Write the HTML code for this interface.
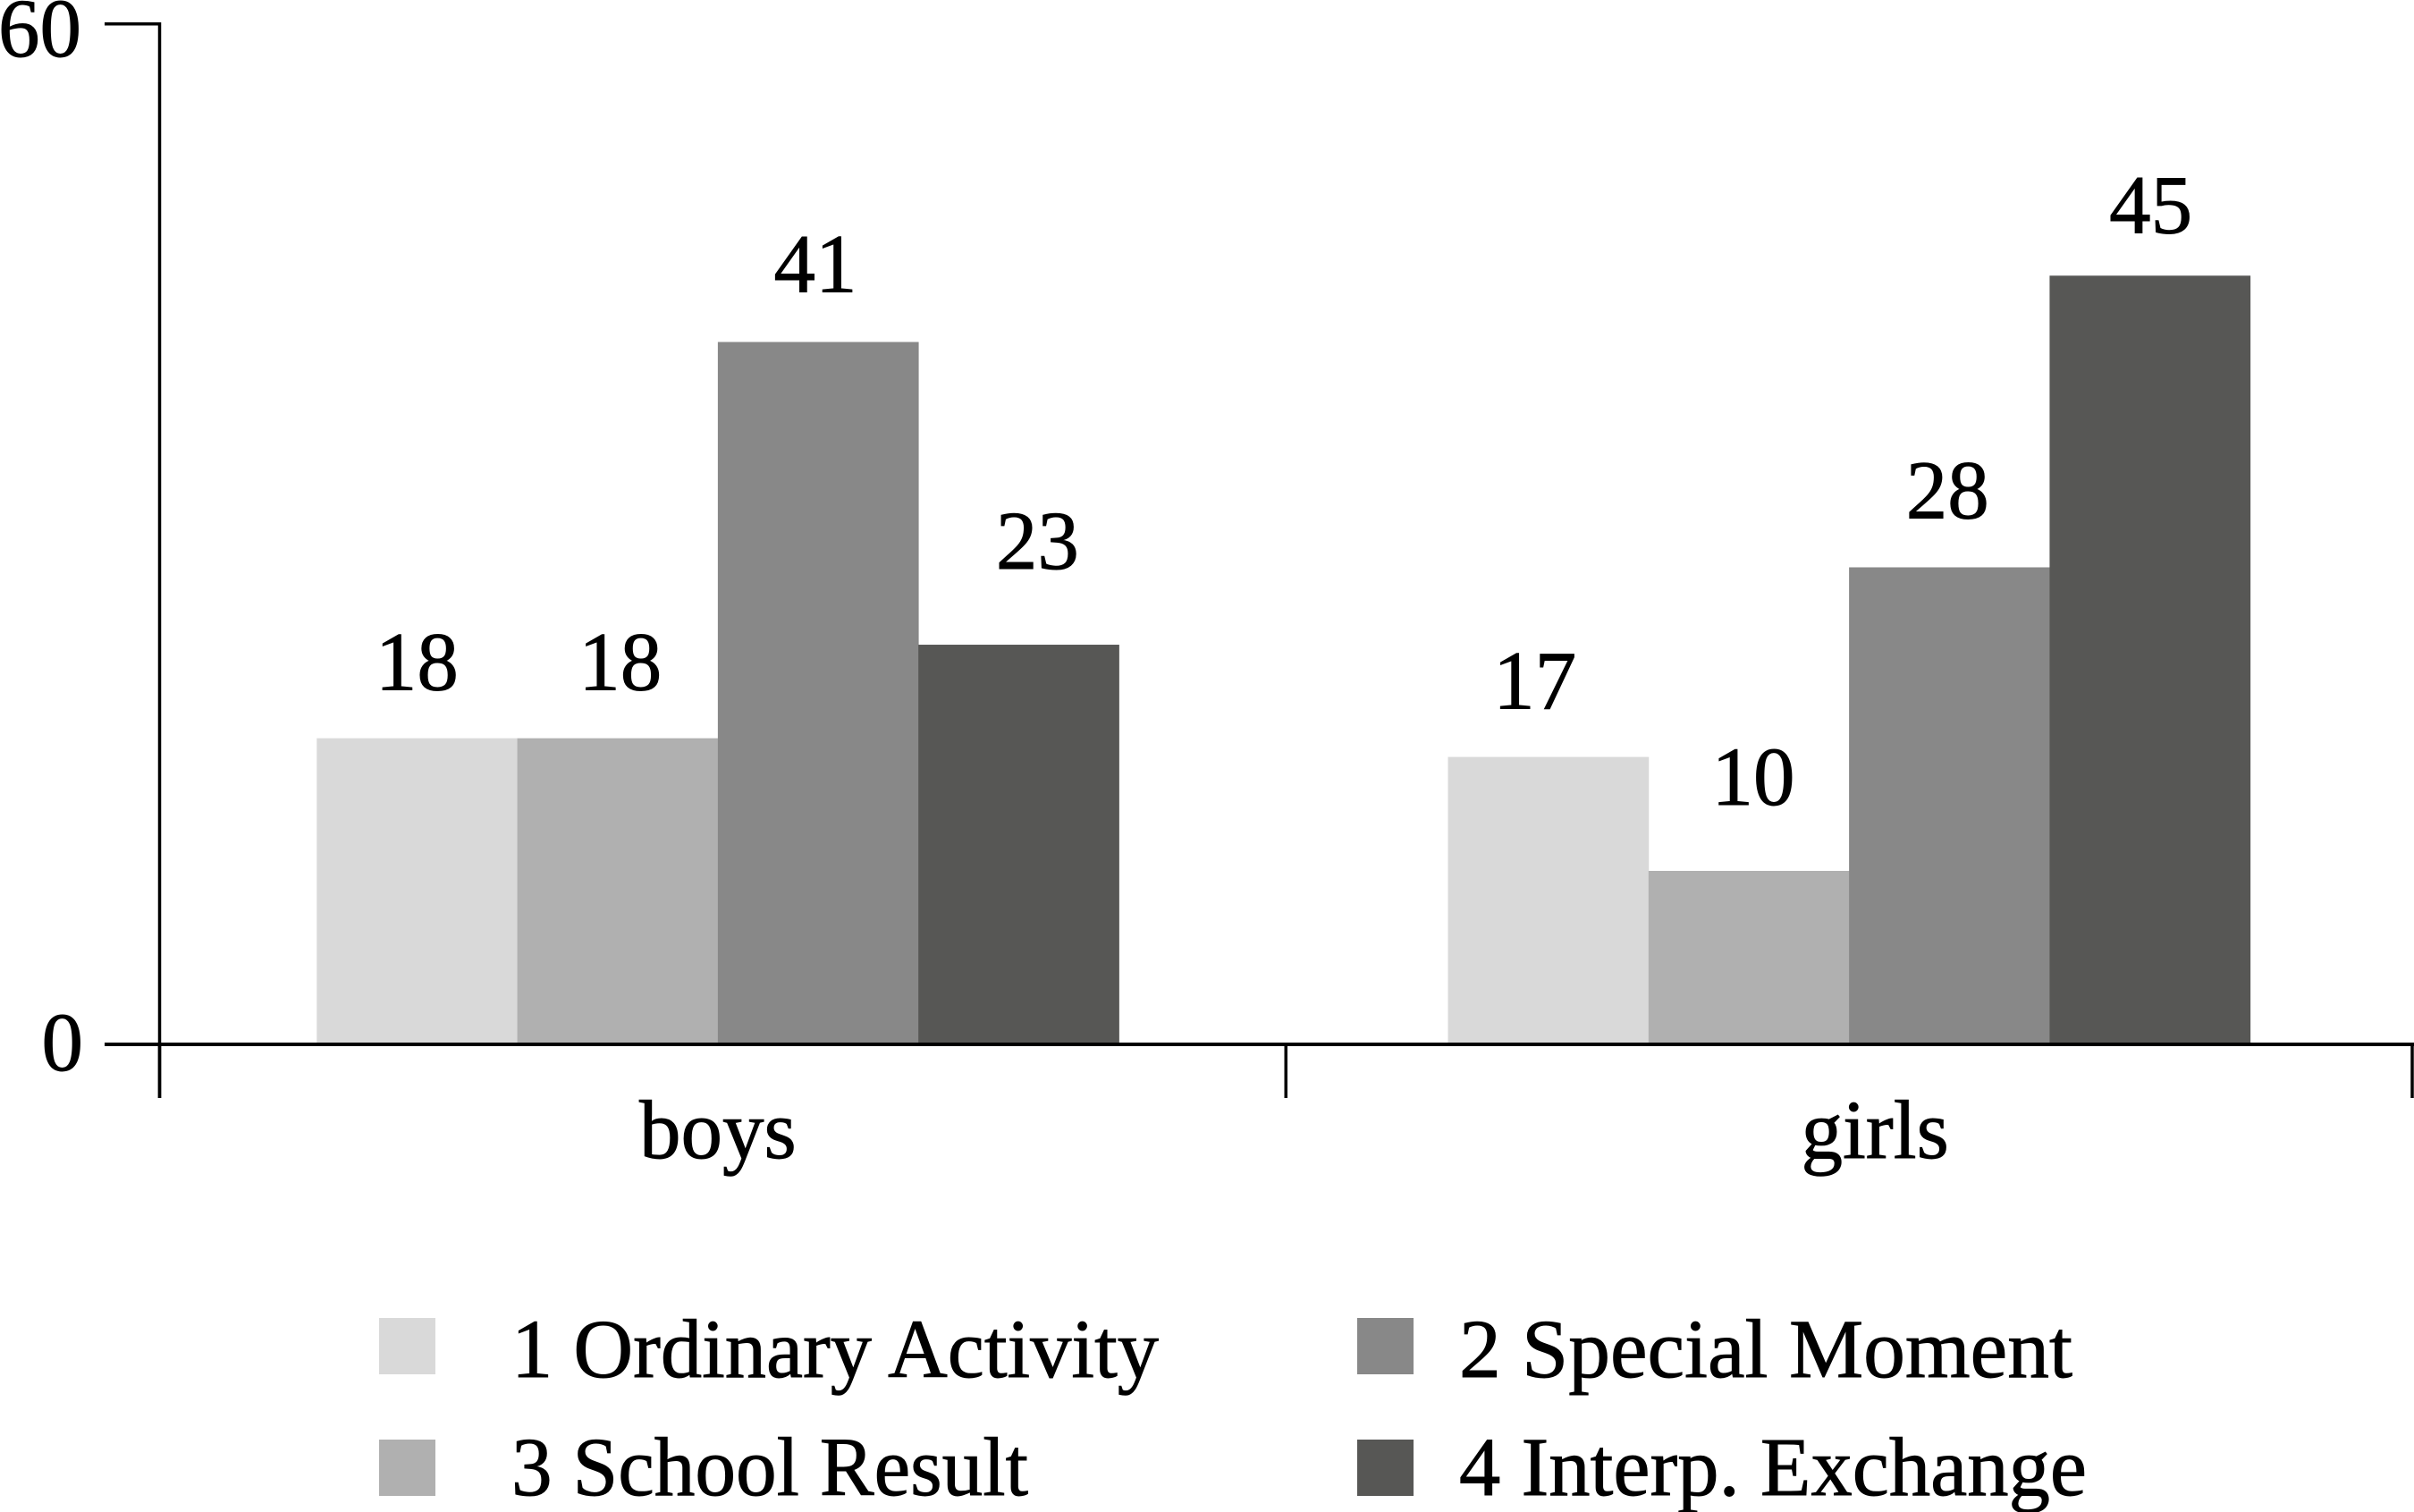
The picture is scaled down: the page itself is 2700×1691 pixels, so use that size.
<!DOCTYPE html>
<html lang="en">
<head>
<meta charset="utf-8">
<title>Grouped bar chart: boys and girls</title>
<style>
  html, body { margin: 0; padding: 0; background: #fff; }
  svg { display: block; }
  text { font-family: "Liberation Serif", serif; font-size: 93px; fill: #000; stroke: #000; stroke-width: 0.9px; }
</style>
</head>
<body>
<svg id="chart" xmlns="http://www.w3.org/2000/svg" width="2700" height="1691" viewBox="0 0 2700 1691"></svg>
<script>
// Data
const categories = ["boys", "girls"];
const seriesNames = ["1 Ordinary Activity", "3 School Result", "2 Special Moment", "4 Interp. Exchange"];
const boysValues = [18.0, 18.0, 41.3, 23.5];
const girlsValues = [16.9, 10.2, 28.05, 45.2];
const boysPrinted = ["18", "18", "41", "23"];
const girlsPrinted = ["17", "10", "28", "45"];
const yTicks = [0, 60];
const yTickLabels = ["0", "60"];

// Layout and styles
const barColors = ["#d9d9d9", "#b0b0b0", "#888888", "#575755"];
const Y0 = 1168, PX_PER_UNIT = 19.02;
const AXIS_X = 178.5, BAND = 1259.75, BAR_W = 224.3;
const GROUP_NUDGE = [-5.5, 0];
const CAT_NUDGE = [0, 29];
const LABEL_GAP = 54;
const LABEL_DX = [[0, 3, -3, 21], [-15, 5, -2, 1]];
const LABEL_DY = [[0, 0, -2, -31], [0, -20, -1, 6]];

const NS = "http://www.w3.org/2000/svg";
const svg = document.getElementById("chart");

function yVal(v) { return Y0 - v * PX_PER_UNIT; }
function bandCenter(g) { return AXIS_X + BAND * (g + 0.5) + GROUP_NUDGE[g]; }
function xBar(g, s) { return bandCenter(g) + (s - 2) * BAR_W; }

function make(tag, attrs, parent) {
  const el = document.createElementNS(NS, tag);
  for (const k in attrs) el.setAttribute(k, attrs[k]);
  (parent || svg).appendChild(el);
  return el;
}

const bg = make("rect", { x: 0, y: 0, width: 2700, height: 1691, fill: "#fff" });



// Bars and value labels
[boysValues, girlsValues].forEach(function (vals, g) {
  const printed = g === 0 ? boysPrinted : girlsPrinted;
  vals.forEach(function (v, s) {
    const bar = make("rect", { x: xBar(g, s), y: yVal(v), width: BAR_W + 0.4, height: Y0 - yVal(v), fill: barColors[s] });
    
    

    const label = make("text", {
      x: xBar(g, s) + BAR_W / 2 + LABEL_DX[g][s],
      y: yVal(v) - LABEL_GAP + LABEL_DY[g][s],
      "text-anchor": "middle"
    });
    label.textContent = printed[s];
    
    
  });
});

// Axes
const yAxis = make("line", { x1: AXIS_X, x2: AXIS_X, y1: yVal(60) - 1.75, y2: 1228, stroke: "#000", "stroke-width": 3.5 });



const xAxis = make("line", { x1: 117, x2: 2700, y1: Y0, y2: Y0, stroke: "#000", "stroke-width": 4 });



yTicks.forEach(function (t, i) {
  const tick = make("line", { x1: 117, x2: AXIS_X, y1: yVal(t), y2: yVal(t), stroke: "#000", "stroke-width": 3.5 });
  
  

  const lab = make("text", { x: t === 0 ? 93 : 91, y: yVal(t) + (t === 0 ? 29 : 36), "text-anchor": "end" });
  lab.textContent = yTickLabels[i];
  
  
});

[0, 1, 2].forEach(function (i) {
  const px = i === 2 ? 2698 : AXIS_X + BAND * i;
  const tick = make("line", { x1: px, x2: px, y1: Y0, y2: 1228, stroke: "#000", "stroke-width": 3.5 });
  
  
});

categories.forEach(function (c, g) {
  const lab = make("text", { x: bandCenter(g) + CAT_NUDGE[g], y: 1295, "text-anchor": "middle" });
  lab.textContent = c;
  
  
});

// Legend
const LEGEND_SWATCH_X = [424, 424, 1518, 1518];
const LEGEND_SWATCH_Y = [1474, 1610, 1474, 1610];
const LEGEND_TEXT_X = [572, 572, 1632, 1632];
const LEGEND_BASE_Y = [1540, 1672, 1540, 1672];
const LEGEND_TEXT_W = [724, 578, 686, 702];
const LEGEND_COLORS = [barColors[0], barColors[1], barColors[2], barColors[3]];

seriesNames.forEach(function (name, i) {
  const sw = make("rect", { x: LEGEND_SWATCH_X[i], y: LEGEND_SWATCH_Y[i], width: 63, height: 63, fill: LEGEND_COLORS[i] });
  
  

  const t = make("text", { x: LEGEND_TEXT_X[i], y: LEGEND_BASE_Y[i], textLength: LEGEND_TEXT_W[i], lengthAdjust: "spacingAndGlyphs" });
  t.textContent = name;
  
  
});
</script>
</body>
</html>
